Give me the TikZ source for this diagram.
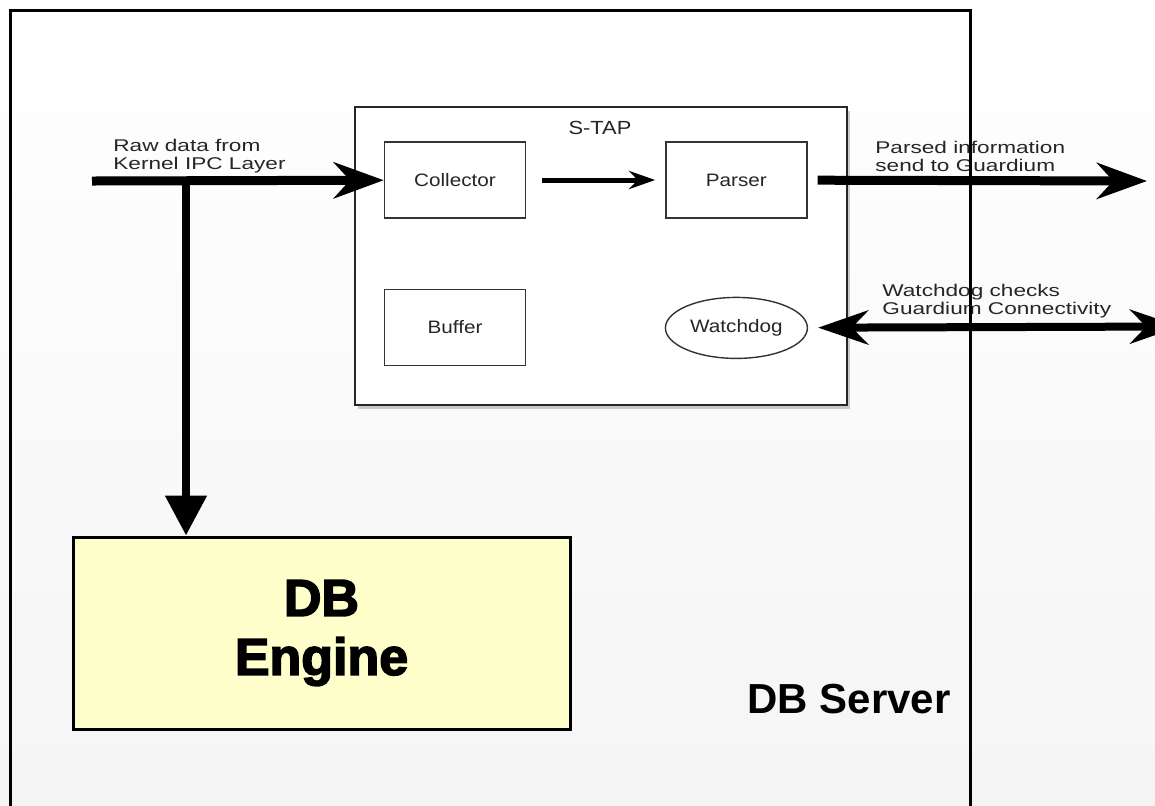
\documentclass[tikz,border=0pt]{standalone}
\usepackage{fontspec}
\setmainfont{Liberation Sans}
\newfontfamily\stapfont[FakeStretch=1.15]{Liberation Sans}
\newfontfamily\notefont[FakeStretch=1.33]{Liberation Sans}
\newfontfamily\heavyfont[FakeBold=3]{Liberation Sans Bold}
\usetikzlibrary{arrows.meta,positioning,shapes.geometric,shadows}
\definecolor{engineyellow}{HTML}{FFFFCC}
\definecolor{labelgray}{HTML}{262626}

\begin{document}
\begin{tikzpicture}[
  x=0.5pt, y=-0.5pt,
  box/.style={draw=black!80, line width=0.7pt, minimum width=70.5pt, minimum height=38pt, inner sep=0pt, text=labelgray, font=\stapfont\fontsize{9}{10}\selectfont},
  watch/.style={box, ellipse, minimum width=71pt, minimum height=30.5pt},
  stapbox/.style={draw=black!85, line width=0.8pt, fill=white, minimum width=246pt, minimum height=149pt, drop shadow={opacity=0.4, shadow xshift=1.5pt, shadow yshift=-2pt}},
  enginebox/.style={draw, line width=1.5pt, fill=engineyellow, minimum width=248.5pt, minimum height=96pt, align=center, font=\heavyfont\fontsize{26}{29.5}\selectfont},
  note/.style={align=left, anchor=west, inner sep=0pt, text=labelgray, font=\notefont\fontsize{8.5}{9}\selectfont},
  arrow/.style={-{Stealth[length=13pt, width=9pt]}, line width=2.5pt},
  fatarrow/.style={-{Stealth[length=25pt, width=18pt]}, line width=4.5pt},
  downarrow/.style={-{Triangle[length=20pt, width=20pt]}, line width=4pt},
  twoway/.style={{Stealth[length=25pt, width=17pt]}-{Stealth[length=25pt, width=17pt]}, line width=4pt}
]
\useasboundingbox (0,0) rectangle (1155,805);
\clip (0,0) rectangle (1155,805);
\shade[top color=white, bottom color=black!4] (0,0) rectangle (1155,805);

\node[stapbox] (stap) at (601,256) {};
\node[text=labelgray, font=\stapfont\fontsize{9.5}{10}\selectfont] (staptitle) at (600,128) {S-TAP};
\node[box] (collector) at (455,180) {Collector};
\node[box, right=69.5pt of collector] (parser) {Parser};
\node[box, below=35pt of collector] (buffer) {Buffer};
\node[watch, below=39pt of parser] (watchdog) {Watchdog};

\node[enginebox] (engine) at (321.5,633) {DB\\Engine};
\node[font=\bfseries\fontsize{21}{25}\selectfont] (server) at (849,699) {DB Server};

\node[note] (rawlabel) at (113,156) {Raw data from\\Kernel IPC Layer};
\node[note] (parsedlabel) at (875,156) {Parsed information\\send to Guardium};
\node[note] (watchlabel) at (882,301) {Watchdog checks\\Guardium Connectivity};

\coordinate (rawin) at (92,181);
\coordinate (split) at (186,181);
\coordinate (guardout) at (1147,181);
\coordinate (guardlink) at (1180,326.5);

\draw[fatarrow] (rawin) -- (collector);
\draw[downarrow] (split) -- (split |- engine.north);
\draw[arrow, shorten <=8pt, shorten >=5pt] (collector) -- (parser);
\draw[fatarrow, shorten <=5pt] (parser) -- (guardout);
\draw[twoway, shorten <=5pt] (watchdog) -- (guardlink);

\draw[line width=1.5pt] (10,10) rectangle (970,830);
\end{tikzpicture}
\end{document}
